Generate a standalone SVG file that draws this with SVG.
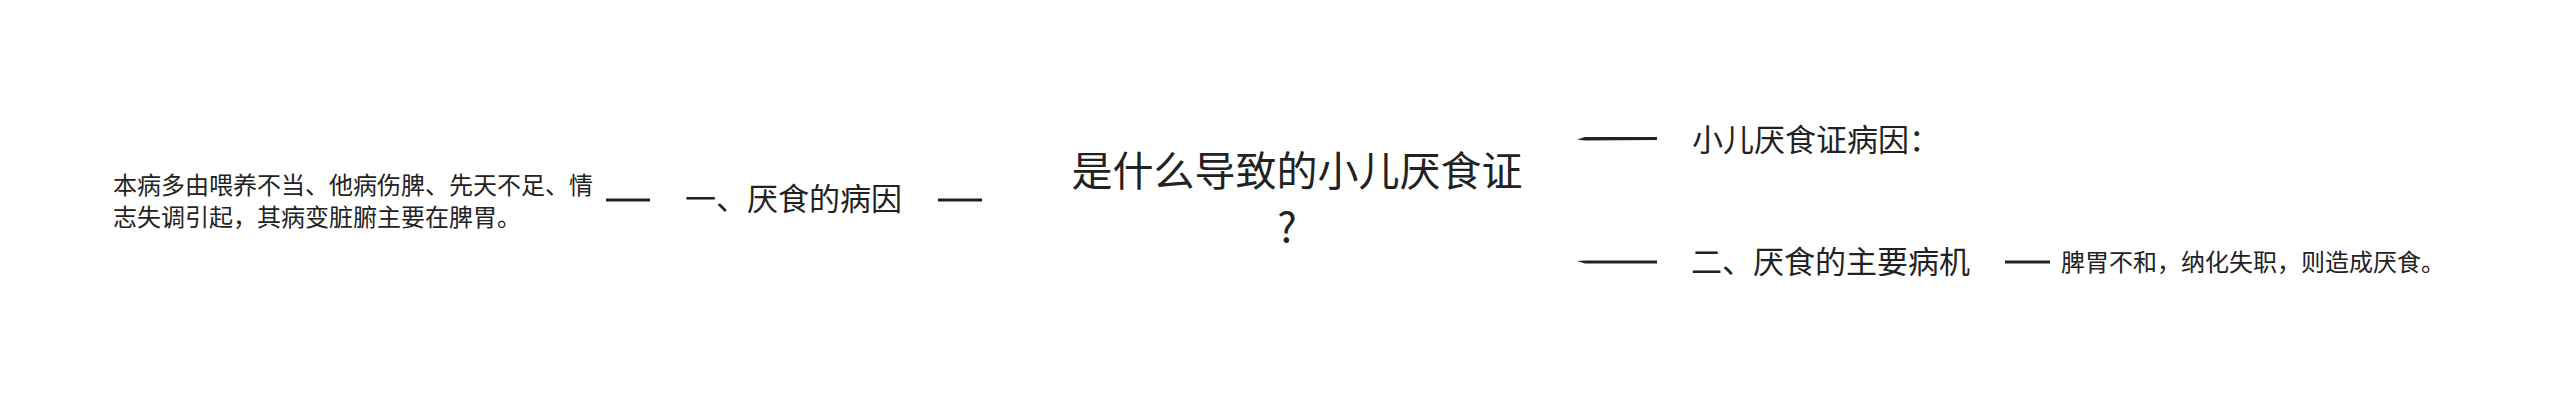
<svg xmlns="http://www.w3.org/2000/svg" width="2560" height="401" viewBox="0 0 2560 401">
  <style>
    text { font-family: "Noto Sans CJK SC", "Noto Sans", sans-serif; fill: #222222; }
    .root { font-size: 41px; text-anchor: middle; }
    .l1 { font-size: 31px; }
    .l2 { font-size: 24px; }
    .conn { stroke: #222222; stroke-width: 3; fill: none; }
    .taper { fill: #222222; stroke: none; }
  </style>
  <rect width="2560" height="401" fill="#ffffff"/>
  <g id="connectors">
    <line class="conn" x1="606" y1="200" x2="650" y2="200"/>
    <line class="conn" x1="938" y1="200" x2="982" y2="200"/>
    <path class="taper" d="M1577,139.5 L1585,137 L1657,137 L1657,140 L1585,140.5 Z"/>
    <path class="taper" d="M1577,261 L1585,260.5 L1657,260.5 L1657,263.5 L1585,263.5 Z"/>
    <line class="conn" x1="2005" y1="262" x2="2050" y2="262"/>
  </g>
  <g id="root">
    <text class="root" x="1297" y="186">是什么导致的小儿厌食证</text>
    <text class="root" x="1287" y="242">?</text>
  </g>
  <g id="node-cause">
    <text class="l1" x="685" y="210">一、厌食的病因</text>
  </g>
  <g id="node-cause-detail">
    <text class="l2" x="113" y="194">本病多由喂养不当、他病伤脾、先天不足、情</text>
    <text class="l2" x="113" y="226">志失调引起，其病变脏腑主要在脾胃。</text>
  </g>
  <g id="node-children-cause">
    <text class="l1" x="1692" y="151">小儿厌食证病因：</text>
  </g>
  <g id="node-mechanism">
    <text class="l1" x="1691" y="273">二、厌食的主要病机</text>
  </g>
  <g id="node-mechanism-detail">
    <text class="l2" x="2061" y="271">脾胃不和，纳化失职，则造成厌食。</text>
  </g>
</svg>
